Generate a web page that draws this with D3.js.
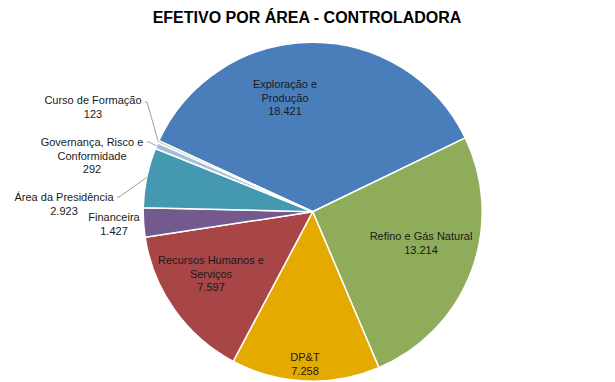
<!DOCTYPE html>
<html><head><meta charset="utf-8">
<script src="https://cdn.jsdelivr.net/npm/d3@7/dist/d3.min.js"></script>
<style>body{margin:0;background:#fff}svg{display:block}text{font-family:"Liberation Sans",Arial,sans-serif}</style>
</head><body><svg id="c" width="615" height="382"></svg>
<script>
const title = "EFETIVO POR ÁREA - CONTROLADORA";
const categories = [
  ["Exploração e","Produção"],
  ["Refino e Gás Natural"],
  ["DP&T"],
  ["Recursos Humanos e","Serviços"],
  ["Financeira"],
  ["Área da Presidência"],
  ["Governança, Risco e","Conformidade"],
  ["Curso de Formação"]
];
const values = [18421, 13214, 7258, 7597, 1427, 2923, 292, 123];
const valueLabels = ["18.421","13.214","7.258","7.597","1.427","2.923","292","123"];
const colors = ["#4a7ebb","#8fac5a","#e4aa00","#a84647","#74598f","#4499b0","#a5bde0","#c4d79b"];

// label layout (center x, first-line y, anchor, leader)
const labelLayout = [
  {x:285, y:84},
  {x:421, y:236},
  {x:305, y:357},
  {x:211, y:260},
  {x:114, y:217},
  {x:64,  y:197, leader:[117,197]},
  {x:92,  y:142, leader:[147,142]},
  {x:93,  y:100, leader:[145,102]}
];

const svg = d3.select("#c");
const cx = 312.7, cy = 211.7, r = 169.5;
const start = -65.2 * Math.PI/180;

svg.append("text").attr("x",307).attr("y",23).attr("text-anchor","middle")
  .attr("font-size",16).attr("font-weight","bold").attr("fill","#000").text(title);

const pie = d3.pie().sort(null).value(d=>d).startAngle(start).endAngle(start+2*Math.PI);
const arcs = pie(values);
const arc = d3.arc().innerRadius(0).outerRadius(r);
const edge = d3.arc().innerRadius(r).outerRadius(r);

const g = svg.append("g").attr("transform",`translate(${cx},${cy})`);
g.selectAll("path").data(arcs).join("path")
  .attr("d",arc).attr("fill",(d,i)=>colors[i])
  .attr("stroke","#fff").attr("stroke-width",1.5).attr("stroke-linejoin","round");

const lh = 13.5;
labelLayout.forEach((L,i)=>{
  const lines = categories[i].concat([valueLabels[i]]);
  const t = svg.append("text").attr("font-size",11).attr("fill","#1a1a1a").attr("text-anchor","middle");
  lines.forEach((s,k)=>{
    t.append("tspan").attr("x",L.x).attr("y",L.y+4+k*lh).text(s);
  });
  if(L.leader){
    const p = edge.centroid(arcs[i]);
    svg.append("polyline")
      .attr("points",`${L.leader[0]},${L.leader[1]} ${L.leader[0]+2},${L.leader[1]} ${cx+p[0]},${cy+p[1]}`)
      .attr("fill","none").attr("stroke","#888").attr("stroke-width",0.8);
  }
});
</script></body></html>
